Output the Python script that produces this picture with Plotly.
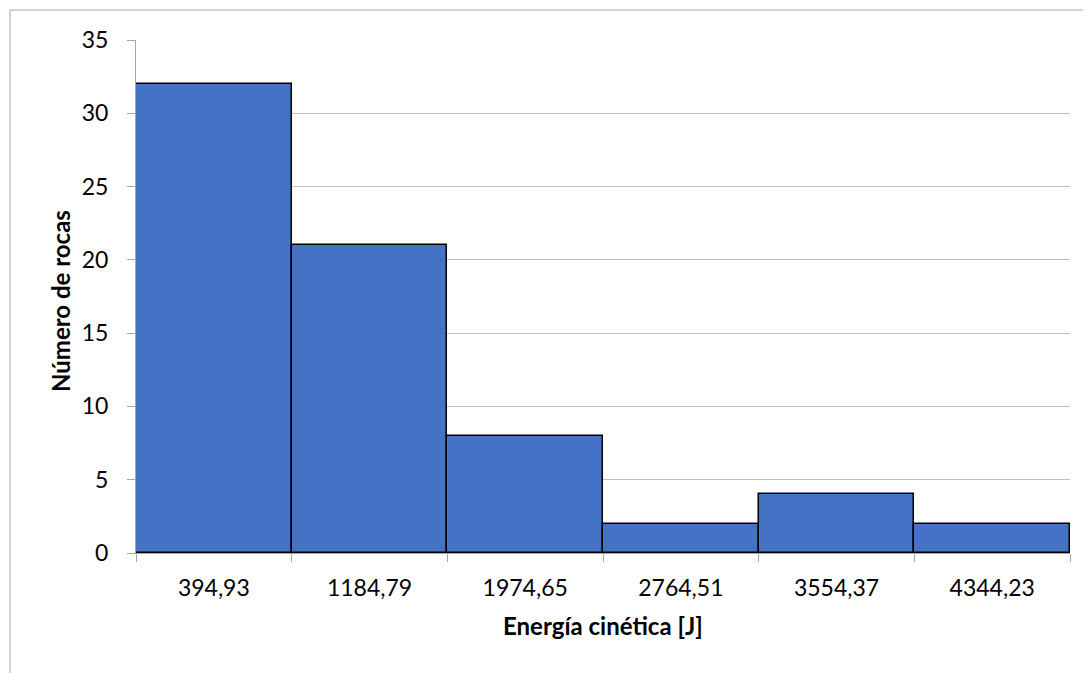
import plotly.graph_objects as go

categories = ["394,93", "1184,79", "1974,65", "2764,51", "3554,37", "4344,23"]
counts = [32, 21, 8, 2, 4, 2]
y_ticks = [0, 5, 10, 15, 20, 25, 30, 35]

# page body has an 8px margin, so offset everything by 8px
OFF = 8
W, H = 1091 - OFF, 673 - OFF
PL, PR, PT, PB = 136, 1070, 40, 553  # target plot area in screen pixels
L, R, T, B = PL - OFF, 1091 - PR, PT - OFF, 673 - PB
pw, ph = PR - PL, PB - PT

fig = go.Figure(go.Bar(
    x=categories, y=counts,
    marker=dict(color="#4472C4", line=dict(color="#000000", width=1.5)),
    width=1.0,
))

font = "Lato, Calibri, 'Open Sans', sans-serif"
fig.update_layout(
    width=W, height=H,
    margin=dict(l=L, r=R, t=T, b=B, pad=0),
    paper_bgcolor="white", plot_bgcolor="white",
    bargap=0,
    showlegend=False,
    font=dict(family=font, size=23, color="#000000"),
    xaxis=dict(
        type="category",
        tickson="boundaries",
        ticks="outside", ticklen=8, tickcolor="#A6A6A6",
        showline=True, linecolor="#A6A6A6", linewidth=1,
        showgrid=False,
        tickfont=dict(size=23),
        ticklabelstandoff=14,
    ),
    yaxis=dict(
        range=[0, 35], tickvals=y_ticks,
        ticks="outside", ticklen=8, tickcolor="#A6A6A6",
        showline=True, linecolor="#A6A6A6", linewidth=1,
        showgrid=True, gridcolor="#BFBFBF", gridwidth=1,
        zeroline=False,
        tickfont=dict(size=23),
        ticklabelstandoff=14,
    ),
    annotations=[
        dict(text="<b>Energía cinética [J]</b>", xref="paper", yref="paper",
             x=(602.5 - PL) / pw, y=-(625 - PB) / ph, showarrow=False,
             xanchor="center", yanchor="middle", font=dict(size=24)),
        dict(text="<b>Número de rocas</b>", xref="paper", yref="paper",
             x=-(PL - 60) / pw, y=(PB - 301) / ph, showarrow=False, textangle=-90,
             xanchor="center", yanchor="middle", font=dict(size=24)),
    ],
    shapes=[dict(
        type="rect", xref="paper", yref="paper",
        x0=-(PL - 10) / pw, x1=1.2, y0=-0.5, y1=1 + (PT - 10) / ph,
        line=dict(color="#A6A6A6", width=1), fillcolor="rgba(0,0,0,0)",
        layer="below",
    )],
)

fig.write_html("out.html")
